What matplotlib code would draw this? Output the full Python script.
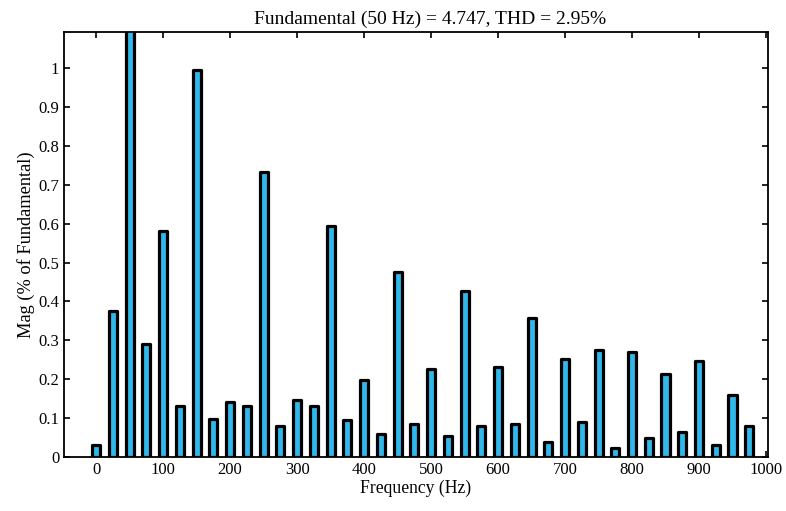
import matplotlib
matplotlib.use("Agg")
import matplotlib.pyplot as plt
import numpy as np

freqs = list(range(0, 1000, 25))
mags = [0.032, 0.375, 100.0, 0.290, 0.580, 0.132, 0.995, 0.098, 0.142, 0.132,
        0.734, 0.080, 0.147, 0.130, 0.594, 0.094, 0.197, 0.059, 0.477, 0.086,
        0.227, 0.055, 0.428, 0.079, 0.231, 0.084, 0.357, 0.039, 0.253, 0.089,
        0.275, 0.023, 0.269, 0.048, 0.213, 0.065, 0.248, 0.030, 0.160, 0.081]
xticks = list(range(0, 1001, 100))
yticks = [round(0.1 * i, 1) for i in range(11)]
yticklabels = ["0", "0.1", "0.2", "0.3", "0.4", "0.5", "0.6", "0.7", "0.8", "0.9", "1"]
title = "Fundamental (50 Hz) = 4.747, THD = 2.95%"

plt.rcParams['font.family'] = ['Liberation Serif', 'DejaVu Serif']

fig = plt.figure(figsize=(7.86, 5.11), dpi=100)
ax = fig.add_axes([64/786, (511-457)/511, (768-64)/786, (457-32)/511])

bars = ax.bar(freqs, mags, width=12, color='#30b8ea', edgecolor='black', linewidth=2.3, zorder=3)
for b in bars:
    b.set_joinstyle('round')

ax.set_xlim(-48, 1003)
ax.set_ylim(0, 1.093)
ax.set_xticks(xticks)
ax.set_yticks(yticks)
ax.set_yticklabels(yticklabels)
ax.tick_params(direction='in', top=True, right=True, length=4, width=1.2, labelsize=12)
for s in ax.spines.values():
    s.set_linewidth(1.3)
    s.set_zorder(4)

ax.set_title(title, fontsize=14, pad=6, x=0.52)
ax.set_xlabel("Frequency (Hz)", fontsize=12.7, labelpad=1)
ax.set_ylabel("Mag (% of Fundamental)", fontsize=13.2, labelpad=2)

fig.savefig("out.png", dpi=100)
